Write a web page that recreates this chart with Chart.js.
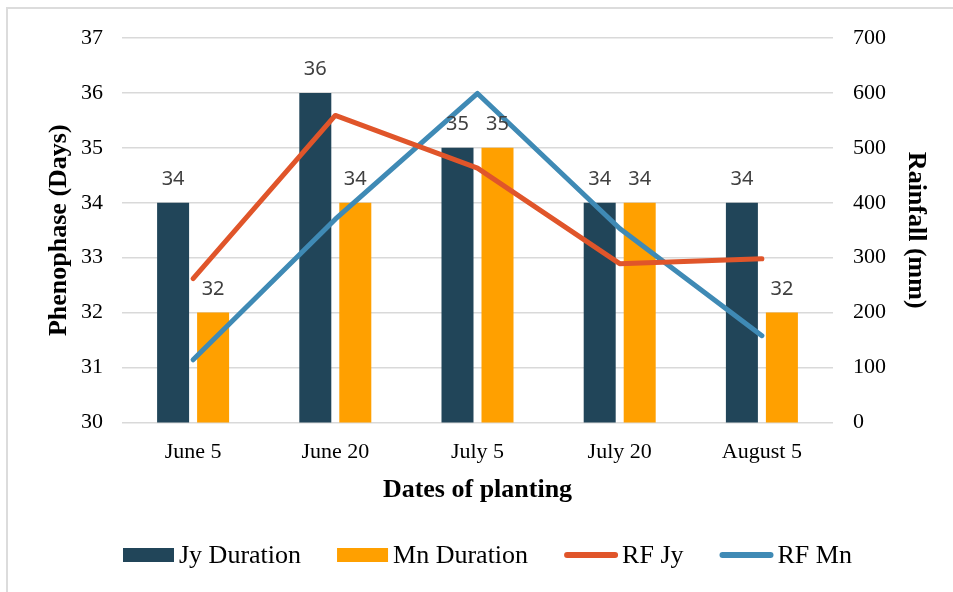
<!DOCTYPE html>
<html>
<head>
<meta charset="utf-8">
<script src="https://cdn.jsdelivr.net/npm/chart.js@4.4.0/dist/chart.umd.min.js"></script>
<style>
html,body{margin:0;padding:0;background:#fff;}
#wrap{position:relative;width:953px;height:592px;overflow:hidden;}
#frame{position:absolute;left:6px;top:7px;width:960px;height:600px;border-left:2px solid #dcdcdc;border-top:2px solid #dcdcdc;pointer-events:none;}
canvas{position:absolute;left:0;top:0;}
</style>
</head>
<body>
<div id="wrap"><canvas id="c" width="953" height="592"></canvas><div id="frame"></div></div>
<script>
const categories = ["June 5", "June 20", "July 5", "July 20", "August 5"];
const jyDuration = [34, 36, 35, 34, 34];
const mnDuration = [32, 34, 35, 34, 32];
const rfJy = [262, 559, 463, 289, 298];
const rfMn = [114, 370, 599, 353, 158];
const leftTicks = [30, 31, 32, 33, 34, 35, 36, 37];
const rightTicks = [0, 100, 200, 300, 400, 500, 600, 700];

const serif = "'Liberation Serif', 'Times New Roman', serif";

const barLabels = {
  id: 'barLabels',
  afterDatasetsDraw(chart) {
    const ctx = chart.ctx;
    ctx.save();
    ctx.font = "20px 'Noto Sans', 'Open Sans', sans-serif";
    ctx.fillStyle = '#404040';
    ctx.textAlign = 'center';
    ctx.textBaseline = 'alphabetic';
    [0, 1].forEach(di => {
      const meta = chart.getDatasetMeta(di);
      meta.data.forEach((bar, i) => {
        ctx.fillText(String(chart.data.datasets[di].data[i]), bar.x, bar.y - 18);
      });
    });
    ctx.restore();
  }
};

// legend drawn from the datasets
const customLegend = {
  id: 'customLegend',
  afterDraw(chart) {
    const ctx = chart.ctx;
    ctx.save();
    ctx.font = "26px " + serif;
    ctx.textBaseline = 'alphabetic';
    let x = 123;
    const cy = 555;
    chart.data.datasets.forEach(ds => {
      if (ds.type === 'bar') {
        ctx.fillStyle = ds.backgroundColor;
        ctx.fillRect(x, cy - 7, 51, 14);
        x += 56;
      } else {
        ctx.strokeStyle = ds.borderColor;
        ctx.lineWidth = 6;
        ctx.lineCap = 'round';
        ctx.beginPath();
        ctx.moveTo(x + 3, cy);
        ctx.lineTo(x + 51, cy);
        ctx.stroke();
        x += 58;
      }
      ctx.fillStyle = '#000';
      ctx.fillText(ds.label, x, 563);
      x += ctx.measureText(ds.label).width + 36;
    });
    ctx.restore();
  }
};

new Chart(document.getElementById('c'), {
  data: {
    labels: categories,
    datasets: [
      { type: 'bar', label: 'Jy Duration', data: jyDuration, backgroundColor: '#214559', yAxisID: 'y', order: 2,
        barPercentage: 0.8, categoryPercentage: 0.5626 },
      { type: 'bar', label: 'Mn Duration', data: mnDuration, backgroundColor: '#FFA000', yAxisID: 'y', order: 2,
        barPercentage: 0.8, categoryPercentage: 0.5626 },
      { type: 'line', label: 'RF Jy', data: rfJy, borderColor: '#E0552A', backgroundColor: '#E0552A', borderWidth: 5,
        pointRadius: 0, tension: 0, yAxisID: 'y1', order: 1, borderCapStyle: 'round', borderJoinStyle: 'round' },
      { type: 'line', label: 'RF Mn', data: rfMn, borderColor: '#3F8AB5', backgroundColor: '#3F8AB5', borderWidth: 5,
        pointRadius: 0, tension: 0, yAxisID: 'y1', order: 1, borderCapStyle: 'round', borderJoinStyle: 'round' }
    ]
  },
  options: {
    responsive: false,
    animation: false,
    layout: { padding: { left: 42, right: 22, top: 38, bottom: 86 } },
    plugins: {
      tooltip: { enabled: false },
      legend: { display: false }
    },
    scales: {
      x: {
        grid: { display: false, drawTicks: false },
        border: { display: false },
        ticks: { color: '#000', font: { family: serif, size: 22 }, padding: 17 },
        title: { display: true, text: 'Dates of planting', color: '#000',
          font: { family: serif, size: 26, weight: 'bold' }, padding: { top: -8, bottom: 0 } }
      },
      y: {
        position: 'left',
        min: 30, max: 37,
        afterBuildTicks(axis) { axis.ticks = leftTicks.map(v => ({ value: v })); },
        afterFit(axis) { axis.width = 80; },
        grid: { color: '#d9d9d9', lineWidth: 1.5, drawTicks: false },
        border: { display: false },
        ticks: { color: '#000', font: { family: serif, size: 22 }, padding: 19 },
        title: { display: true, text: 'Phenophase (Days)', color: '#000',
          font: { family: serif, size: 26, weight: 'bold' }, padding: { top: 2, bottom: 0 } }
      },
      y1: {
        position: 'right',
        min: 0, max: 700,
        afterBuildTicks(axis) { axis.ticks = rightTicks.map(v => ({ value: v })); },
        afterFit(axis) { axis.width = 98; },
        grid: { display: false, drawTicks: false },
        border: { display: false },
        ticks: { color: '#000', font: { family: serif, size: 22 }, padding: 20 },
        title: { display: true, text: 'Rainfall (mm)', color: '#000',
          font: { family: serif, size: 26, weight: 'bold' }, padding: { top: 0, bottom: 0 } }
      }
    }
  },
  plugins: [barLabels, customLegend]
});
</script>
</body>
</html>
